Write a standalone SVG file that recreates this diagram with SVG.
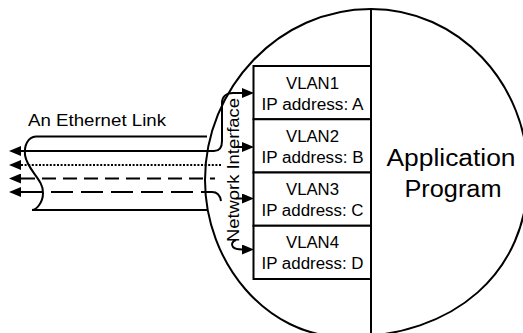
<svg xmlns="http://www.w3.org/2000/svg" width="523" height="333" viewBox="0 0 523 333">
<style>
.ln{fill:none;stroke:#000;stroke-width:2}
.box{fill:#fff;stroke:#000;stroke-width:2}
.t{font-family:"Liberation Sans",Arial,sans-serif;fill:#000}
.bt{font-size:16px;text-anchor:middle}
.dot{stroke-dasharray:2 1.6}
.sd{stroke-dasharray:14 7}
.ld{stroke-dasharray:22 8}
</style>
<defs>
<marker id="ah" viewBox="0 0 12 10" refX="0" refY="5" markerWidth="12" markerHeight="10" markerUnits="userSpaceOnUse" orient="auto-start-reverse"><path d="M0,0L12,5L0,10z" fill="#000"/></marker>
</defs>
<rect width="523" height="333" fill="#fff"/>
<g id="host">
<path class="ln" d="M371,9 C458,9 528,83 528,175 C528,272 455,337 345,337 C266,337 205,262 205,180 C205,88 279,9 371,9 Z"/>
<line class="ln" x1="371" y1="9" x2="371" y2="340"/>
</g>
<g id="vlan1">
<rect class="box" x="253.5" y="66" width="117.5" height="53.25"/>
<text class="t bt" x="312.5" y="88.5" textLength="53" lengthAdjust="spacingAndGlyphs">VLAN1</text>
<text class="t bt" x="312.5" y="109.5" textLength="102" lengthAdjust="spacingAndGlyphs">IP address: A</text>
</g>
<g id="vlan2">
<rect class="box" x="253.5" y="119.25" width="117.5" height="53.25"/>
<text class="t bt" x="312.5" y="141.75" textLength="53" lengthAdjust="spacingAndGlyphs">VLAN2</text>
<text class="t bt" x="312.5" y="162.75" textLength="102" lengthAdjust="spacingAndGlyphs">IP address: B</text>
</g>
<g id="vlan3">
<rect class="box" x="253.5" y="172.5" width="117.5" height="53.25"/>
<text class="t bt" x="312.5" y="195" textLength="53" lengthAdjust="spacingAndGlyphs">VLAN3</text>
<text class="t bt" x="312.5" y="216" textLength="102" lengthAdjust="spacingAndGlyphs">IP address: C</text>
</g>
<g id="vlan4">
<rect class="box" x="253.5" y="225.75" width="117.5" height="53.25"/>
<text class="t bt" x="312.5" y="248.25" textLength="53" lengthAdjust="spacingAndGlyphs">VLAN4</text>
<text class="t bt" x="312.5" y="269.25" textLength="102" lengthAdjust="spacingAndGlyphs">IP address: D</text>
</g>
<g id="application">
<text class="t" x="451" y="165.7" font-size="23" text-anchor="middle" textLength="129" lengthAdjust="spacingAndGlyphs">Application</text>
<text class="t" x="453" y="196.7" font-size="23" text-anchor="middle" textLength="97" lengthAdjust="spacingAndGlyphs">Program</text>
</g>
<g id="ethernet-link">
<path class="ln" d="M207,136.5 H36 C28,137 24,145 25,155 C27,170 44,180 43,193 C43,203 36,210 32,210 H207"/>
<text class="t" x="28" y="125.7" font-size="17" textLength="138" lengthAdjust="spacingAndGlyphs">An Ethernet Link</text>
</g>
<g id="network-interface">
<text class="t" transform="translate(238.5,170) rotate(-90)" font-size="16" text-anchor="middle" textLength="144" lengthAdjust="spacingAndGlyphs">Network Interface</text>
</g>
<g id="connectors">
<path class="ln" d="M21,151 H214 C220,151 222,147 222,141 V103 C222,97 226,93 233,93 H242" marker-start="url(#ah)" marker-end="url(#ah)"/>
<path class="ln dot" d="M21,165 H222" marker-start="url(#ah)"/>
<path class="ln sd" d="M21,178.5 H215" marker-start="url(#ah)"/>
<path class="ln ld" d="M21,192 H212" marker-start="url(#ah)"/>
<path class="ln" d="M212,192 C217,192 220,195 221,201"/>
<path class="ln" d="M236,147 H242" marker-end="url(#ah)"/>
<path class="ln" d="M236,198.5 H242" marker-end="url(#ah)"/>
<path class="ln" d="M236,240 C232,241 231,245 233,247 C235,249 238,249.5 242,249.5" marker-end="url(#ah)"/>
</g>
</svg>
